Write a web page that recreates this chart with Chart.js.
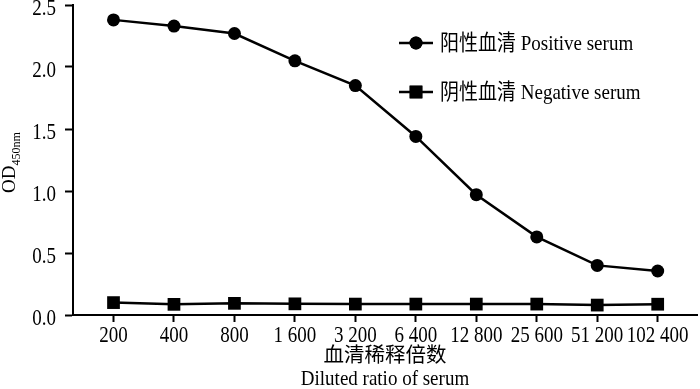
<!DOCTYPE html>
<html>
<head>
<meta charset="utf-8">
<script src="https://cdn.jsdelivr.net/npm/chart.js@4"></script>
<style>
html,body{margin:0;padding:0;background:#fff;}
#c{display:block;}
</style>
</head>
<body>
<canvas id="c" width="700" height="389"></canvas>
<script>
const dilutionLabels = ["200","400","800","1 600","3 200","6 400","12 800","25 600","51 200","102 400"];
const positiveValues = [2.38, 2.33, 2.27, 2.05, 1.85, 1.44, 0.97, 0.63, 0.40, 0.355];
const negativeValues = [0.10, 0.086, 0.094, 0.09, 0.088, 0.088, 0.088, 0.088, 0.08, 0.087];
const seriesNames = ["阳性血清 Positive serum", "阴性血清 Negative serum"];
const xTitleLines = ["血清稀释倍数", "Diluted ratio of serum"];
const yTitleMain = "OD";
const yTitleSub = "450nm";
const yTickValues = [0, 0.5, 1.0, 1.5, 2.0, 2.5];

const FONT = "'Liberation Serif', 'Noto Sans CJK SC', serif";

function stretchedText(ctx, text, x, yCenter, size, align, stretch) {
  ctx.save();
  ctx.font = size + "px " + FONT;
  ctx.textAlign = align;
  ctx.textBaseline = 'alphabetic';
  const capH = 0.66 * size * stretch;
  ctx.translate(x, yCenter + capH / 2);
  ctx.scale(1, stretch);
  ctx.fillStyle = '#000';
  ctx.fillText(text, 0, 0);
  ctx.restore();
}

const textPlugin = {
  id: 'textPlugin',
  afterDraw(chart) {
    const ctx = chart.ctx;
    const xs = chart.scales.x, ys = chart.scales.y;
    ys.ticks.forEach(t => {
      stretchedText(ctx, t.value.toFixed(1), 56, ys.getPixelForValue(t.value) + 2, 19, 'right', 1.2);
    });
    xs.ticks.forEach(t => {
      stretchedText(ctx, dilutionLabels[t.value], xs.getPixelForValue(t.value), 334, 19, 'center', 1.2);
    });
    const cx = (chart.chartArea.left + chart.chartArea.right) / 2;
    stretchedText(ctx, xTitleLines[0], cx, 355, 20.5, 'center', 1.0);
    stretchedText(ctx, xTitleLines[1], cx, 378, 19, 'center', 1.15);
    const entriesY = [43, 92];
    chart.data.datasets.forEach((ds, i) => {
      const y = entriesY[i];
      ctx.save();
      ctx.strokeStyle = '#000';
      ctx.lineWidth = 2.5;
      ctx.beginPath();
      ctx.moveTo(399, y);
      ctx.lineTo(433, y);
      ctx.stroke();
      ctx.fillStyle = '#000';
      Chart.helpers.drawPoint(ctx, {pointStyle: ds.pointStyle, radius: ds.pointRadius, borderWidth: 0}, 416, y);
      ctx.fill();
      ctx.restore();
      stretchedText(ctx, ds.label, 440, y, 19, 'left', 1.15);
    });
    ctx.save();
    ctx.translate(15, 193);
    ctx.rotate(-Math.PI / 2);
    ctx.fillStyle = '#000';
    ctx.textBaseline = 'alphabetic';
    ctx.textAlign = 'left';
    ctx.font = "19px " + FONT;
    ctx.fillText(yTitleMain, 0, 0);
    const w = ctx.measureText(yTitleMain).width;
    ctx.font = "12px " + FONT;
    ctx.fillText(yTitleSub, w, 5);
    ctx.restore();
  }
};

new Chart(document.getElementById('c'), {
  type: 'line',
  data: {
    datasets: [
      {
        label: seriesNames[0],
        data: positiveValues.map((v, i) => ({x: i, y: v})),
        borderColor: '#000',
        backgroundColor: '#000',
        borderWidth: 2.5,
        pointStyle: 'circle',
        pointRadius: 6.5,
        pointBorderWidth: 0,
        tension: 0,
        clip: false
      },
      {
        label: seriesNames[1],
        data: negativeValues.map((v, i) => ({x: i, y: v})),
        borderColor: '#000',
        backgroundColor: '#000',
        borderWidth: 2.5,
        pointStyle: 'rect',
        pointRadius: 9,
        pointBorderWidth: 0,
        tension: 0,
        clip: false
      }
    ]
  },
  options: {
    responsive: false,
    animation: false,
    devicePixelRatio: 1,
    layout: { autoPadding: false, padding: {top: 5, right: 3, left: 0, bottom: 0} },
    plugins: { legend: {display: false}, tooltip: {enabled: false} },
    scales: {
      x: {
        type: 'linear',
        min: -0.67,
        max: 9.65,
        afterBuildTicks(scale) {
          scale.ticks = dilutionLabels.map((_, i) => ({value: i}));
        },
        afterFit(scale) { scale.height = 74; },
        ticks: { display: false, autoSkip: false, maxRotation: 0 },
        grid: {
          drawOnChartArea: false,
          drawTicks: true,
          tickLength: 7,
          tickWidth: 2,
          tickColor: '#000'
        },
        border: {color: '#000', width: 2}
      },
      y: {
        min: 0,
        max: 2.5,
        afterBuildTicks(scale) {
          scale.ticks = yTickValues.map(v => ({value: v}));
        },
        afterFit(scale) { scale.width = 73; },
        ticks: { display: false },
        grid: {
          drawOnChartArea: false,
          drawTicks: true,
          tickLength: 8,
          tickWidth: 2,
          tickColor: '#000'
        },
        border: {color: '#000', width: 2}
      }
    }
  },
  plugins: [textPlugin]
});
</script>
</body>
</html>
